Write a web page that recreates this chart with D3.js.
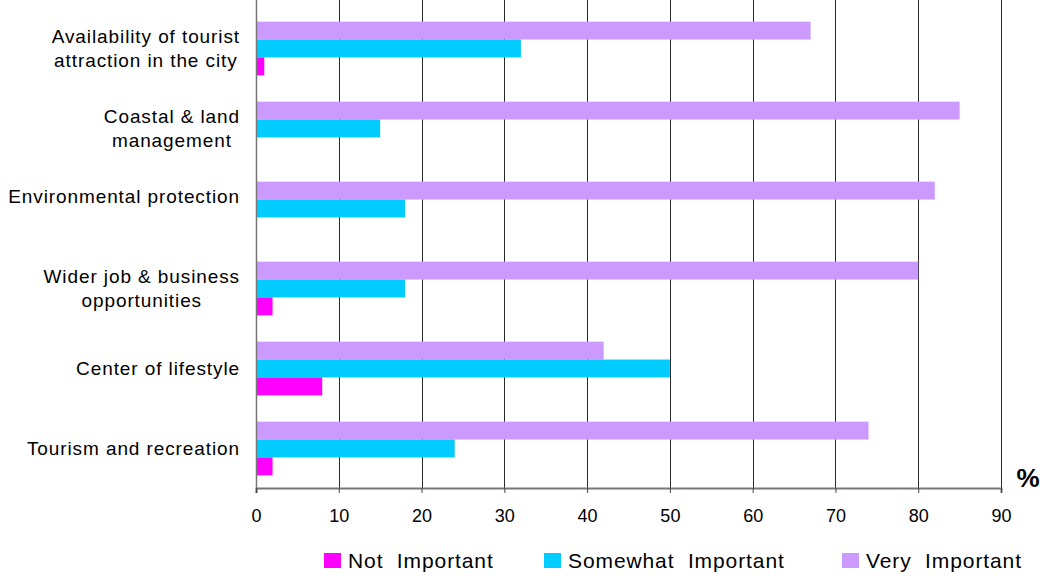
<!DOCTYPE html>
<html>
<head>
<meta charset="utf-8">
<script src="https://cdn.jsdelivr.net/npm/d3@7"></script>
<style>
  html, body { margin: 0; padding: 0; background: #fff; }
  svg { display: block; font-family: "Liberation Sans", Arial, sans-serif; }
</style>
</head>
<body>
<svg id="chart" width="1044" height="576"></svg>
<script>
// ---- data ----
const categories = [
  ["Availability of tourist", "attraction in the city"],
  ["Coastal & land", "management"],
  ["Environmental protection", ""],
  ["Wider job & business", "opportunities"],
  ["Center of lifestyle"],
  ["Tourism and recreation"]
];
const seriesNames = ["Very  Important", "Somewhat  Important", "Not  Important"];
const seriesColors = ["#CC99FF", "#00CCFF", "#FF00FF"];
const veryImportant = [67, 85, 82, 80, 42, 74];
const somewhatImportant = [32, 15, 18, 18, 50, 24];
const notImportant = [1, 0, 0, 2, 8, 2];
const xTicks = [0, 10, 20, 30, 40, 50, 60, 70, 80, 90];
const legendOrder = [2, 1, 0];

const seriesValues = [veryImportant, somewhatImportant, notImportant];

(function () {
const svg = d3.select("#chart");
const plotLeft = 256, plotRight = 1001, plotTop = 8, plotBottom = 488;

const x = d3.scaleLinear().domain([0, 90]).range([plotLeft, plotRight]);
const y = d3.scaleBand().domain(d3.range(categories.length)).range([plotTop, plotBottom]).padding(0);
const ys = d3.scaleBand().domain(d3.range(3)).range([0, y.bandwidth()])
  .paddingInner(0).paddingOuter(0.735);

// gridlines
svg.append("g").selectAll("line")
  .data(xTicks.filter(d => d > 0))
  .join("line")
  .attr("x1", d => Math.round(x(d)) + 0.5).attr("x2", d => Math.round(x(d)) + 0.5)
  .attr("y1", 0).attr("y2", plotBottom)
  .attr("stroke", "#2a2a2a").attr("stroke-width", 1);

// bars
const groups = svg.append("g").selectAll("g")
  .data(categories.map((c, i) => i))
  .join("g")
  .attr("transform", i => `translate(0,${y(i)})`);

groups.selectAll("rect")
  .data(i => seriesValues.map((arr, s) => ({ s, v: arr[i] })))
  .join("rect")
  .attr("x", x(0))
  .attr("y", d => ys(d.s) + 0.5)
  .attr("width", d => x(d.v) - x(0))
  .attr("height", ys.bandwidth())
  .attr("fill", d => seriesColors[d.s]);

// left axis line
svg.append("line")
  .attr("x1", plotLeft + 0.5).attr("x2", plotLeft + 0.5)
  .attr("y1", 0).attr("y2", plotBottom + 5)
  .attr("stroke", "#777").attr("stroke-width", 1.5);

// x axis
const xAxis = d3.axisBottom(x).tickValues(xTicks).tickSize(5).tickPadding(10)
  .tickFormat(d3.format("d"));
const gx = svg.append("g").attr("transform", `translate(0,${plotBottom})`).call(xAxis);
gx.select(".domain").attr("stroke", "#777").attr("stroke-width", 2);
gx.selectAll(".tick line").attr("stroke", "#444");
gx.selectAll(".tick text")
  .attr("font-family", "'Liberation Sans', Arial, sans-serif")
  .attr("font-size", 18).attr("fill", "#000").attr("y", 21);

// category labels
const lineH = 24;
categories.forEach((lines, i) => {
  const cy = y(i) + y.bandwidth() / 2;
  const g = svg.append("g");
  const n = lines.length;
  const texts = lines.map((ln, k) => g.append("text")
    .attr("y", cy + (k - (n - 1) / 2) * lineH + 6.5)
    .attr("font-size", 19)
    .attr("letter-spacing", 0.9)
    .attr("fill", "#000")
    .text(ln));
  const maxW = d3.max(texts, t => t.node().getComputedTextLength());
  texts.forEach(t => t.attr("x", 240 - maxW / 2).attr("text-anchor", "middle"));
});

// percent sign
svg.append("text")
  .attr("x", 1028).attr("y", 487)
  .attr("text-anchor", "middle")
  .attr("font-size", 26).attr("font-weight", "bold")
  .text("%");

// legend
const legendX = [324, 544, 842];
const lg = svg.append("g");
legendOrder.forEach((s, k) => {
  lg.append("rect")
    .attr("x", legendX[k]).attr("y", 553)
    .attr("width", 17).attr("height", 15)
    .attr("fill", seriesColors[s]);
  lg.append("text")
    .attr("x", legendX[k] + 24).attr("y", 568)
    .attr("font-size", 21).attr("letter-spacing", 0.9)
    .attr("fill", "#000")
    .style("white-space", "pre")
    .text(seriesNames[s]);
});
})();
</script>
</body>
</html>
